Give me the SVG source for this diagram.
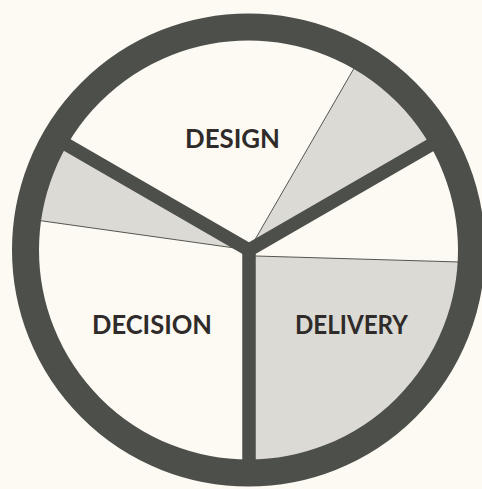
<svg xmlns="http://www.w3.org/2000/svg" width="482" height="489" viewBox="0 0 482 489">
  <defs>
    <style>
      .bg { fill: #fcfaf2; }
      .shade { fill: #dcdad4; }
      .thin { stroke: #55564f; stroke-width: 1; fill: none; }
      .ring { fill: none; stroke: #4c4f4a; stroke-width: 27; }
      .spoke { fill: none; stroke: #4c4f4a; stroke-width: 13.5; stroke-linejoin: miter; stroke-linecap: butt; }
      .label { font-family: Lato, "Liberation Sans", sans-serif; font-weight: 700; font-size: 26px; fill: #2f2b2a; text-anchor: middle; }
    </style>
    <clipPath id="inner">
      <circle cx="249" cy="250" r="222"/>
    </clipPath>
  </defs>
  <rect class="bg" x="0" y="0" width="482" height="489"/>

  <g id="wedges" clip-path="url(#inner)">
    <polygon class="shade" points="249,250 379,25 474,120"/>
    <polygon class="shade" points="249,250 24,120 -8.5,213.8"/>
    <polygon class="shade" points="249,255.8 500,263.2 500,500 249,500"/>
  </g>

  <g id="connectors" clip-path="url(#inner)">
    <line class="thin" x1="249" y1="250" x2="379" y2="25"/>
    <line class="thin" x1="249" y1="250" x2="-8.5" y2="213.8"/>
    <line class="thin" x1="249" y1="255.8" x2="500" y2="263.2"/>
    <path class="spoke" d="M 56,138.5 L 249,250 L 442,138.5"/>
    <path class="spoke" d="M 249,245 L 249,474"/>
  </g>

  <g id="ring">
    <circle class="ring" cx="248.5" cy="250" r="223"/>
  </g>

  <g id="design">
    <text class="label" x="232.5" y="148" textLength="95" lengthAdjust="spacingAndGlyphs">DESIGN</text>
  </g>
  <g id="decision">
    <text class="label" x="152" y="334" textLength="120" lengthAdjust="spacingAndGlyphs">DECISION</text>
  </g>
  <g id="delivery">
    <text class="label" x="351.5" y="334" textLength="113" lengthAdjust="spacingAndGlyphs">DELIVERY</text>
  </g>
</svg>
